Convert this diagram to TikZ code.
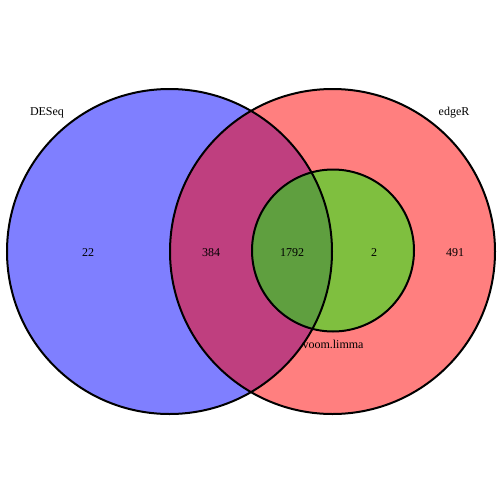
\documentclass[tikz,border=0pt]{standalone}
\usepackage{fontspec}
\setmainfont{Liberation Serif}
\definecolor{desblue}{HTML}{7F7FFF}
\definecolor{edgered}{HTML}{FF7F7F}
\definecolor{bothpurple}{HTML}{BF3F7F}
\definecolor{voomgreen}{HTML}{7FBF3F}
\definecolor{allgreen}{HTML}{5F9F3F}
\tikzset{
  rim/.style={line width=2pt, color=black},
  count/.style={font=\fontsize{12}{14}\selectfont, inner sep=0pt},
  setname/.style={font=\fontsize{12}{14}\selectfont, inner sep=0pt}
}
\begin{document}
\begin{tikzpicture}[x=1pt, y=-1pt]
			%%%%% START %%%%%
			\useasboundingbox[fill=white] (0, 0) rectangle (504, 504);
			
			\fill[desblue] (169.5, 251.5) circle (162.5);
			\fill[edgered] (332.5, 251.5) circle (162.5);
			\begin{scope}
				\clip (169.5, 251.5) circle (162.5);
				\fill[bothpurple] (332.5, 251.5) circle (162.5);
			\end{scope}
			
			\fill[voomgreen] (333, 250.5) circle (81);
			\begin{scope}
				\clip (169.5, 251.5) circle (162.5);
				\fill[allgreen] (333, 250.5) circle (81);
			\end{scope}
			
			\draw[rim] (169.5, 251.5) circle (162.5);
			\draw[rim] (332.5, 251.5) circle (162.5);
			\draw[rim] (333, 250.5) circle (81);
			
			\node[setname] (deseq) at (47, 113) {DESeq};
			\node[setname] (edger) at (454, 113) {edgeR};
			\node[setname] (voom) at (333, 344) {voom.limma};
			
			\node[count] (onlydeseq) at (88, 253) {22};
			\node[count] (deseqedger) at (211, 253) {384};
			\node[count] (allthree) at (292, 253) {1792};
			\node[count] (edgervoom) at (374, 253) {2};
			\node[count] (onlyedger) at (455, 253) {491};
			%%%%% END %%%%%
\end{tikzpicture}
\end{document}
